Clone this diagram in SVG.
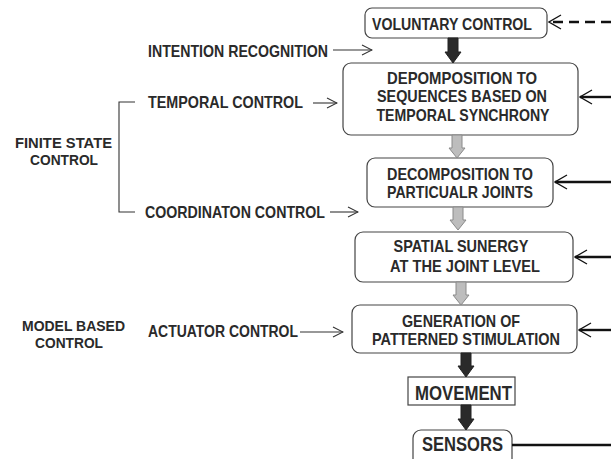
<svg xmlns="http://www.w3.org/2000/svg" width="611" height="459" viewBox="0 0 611 459">
<style>
text{font-family:"Liberation Sans",Arial,sans-serif;font-weight:bold;fill:#2a2a2a;font-size:16.5px}
.c{text-anchor:middle}
.s{font-size:15px}
.box{fill:#fff;stroke:#444;stroke-width:1.2}
.blk{fill:#2a2a2a;stroke:#222;stroke-width:1}
.gry{fill:#bdbdbd;stroke:#8a8a8a;stroke-width:1}
.thin{stroke:#333;stroke-width:1.1;fill:none}
.fb{stroke:#111;stroke-width:2.4;fill:none}
</style>
<defs>
<marker id="op" viewBox="0 0 12 12" refX="11" refY="6" markerWidth="12" markerHeight="12" markerUnits="userSpaceOnUse" orient="auto">
<path d="M1,1 L11,6 L1,11" fill="none" stroke="#333" stroke-width="1.1"/>
</marker>
<marker id="fbm" viewBox="0 0 14 16" refX="13" refY="8" markerWidth="14" markerHeight="16" markerUnits="userSpaceOnUse" orient="auto">
<path d="M1,1 L13,8 L1,15" fill="none" stroke="#111" stroke-width="1.3"/>
</marker>
</defs>
<rect width="611" height="459" fill="#fff"/>
<g id="n-voluntary"><rect class="box" x="365" y="8" width="182" height="30" rx="7"/><text class="c" x="452" y="30" textLength="160" lengthAdjust="spacingAndGlyphs">VOLUNTARY CONTROL</text></g>
<g id="n-decomp-seq"><rect class="box" x="343" y="63" width="235" height="72" rx="8"/>
<text class="c" x="462" y="84" textLength="150" lengthAdjust="spacingAndGlyphs">DEPOMPOSITION TO</text>
<text class="c" x="462" y="102" textLength="170" lengthAdjust="spacingAndGlyphs">SEQUENCES BASED ON</text>
<text class="c" x="463" y="121" textLength="173" lengthAdjust="spacingAndGlyphs">TEMPORAL SYNCHRONY</text></g>
<g id="n-decomp-joints"><rect class="box" x="367" y="158" width="186" height="49" rx="8"/>
<text class="c" x="460" y="180" textLength="146" lengthAdjust="spacingAndGlyphs">DECOMPOSITION TO</text>
<text class="c" x="460" y="198" textLength="146" lengthAdjust="spacingAndGlyphs">PARTICUALR JOINTS</text></g>
<g id="n-spatial"><rect class="box" x="355" y="232" width="218" height="50" rx="8"/>
<text class="c" x="461" y="252" textLength="135" lengthAdjust="spacingAndGlyphs">SPATIAL SUNERGY</text>
<text class="c" x="465" y="272" textLength="150" lengthAdjust="spacingAndGlyphs">AT THE JOINT LEVEL</text></g>
<g id="n-generation"><rect class="box" x="352" y="305" width="225" height="48" rx="8"/>
<text class="c" x="461" y="327" textLength="118" lengthAdjust="spacingAndGlyphs">GENERATION OF</text>
<text class="c" x="466" y="345" textLength="188" lengthAdjust="spacingAndGlyphs">PATTERNED STIMULATION</text></g>
<g id="n-movement"><rect class="box" x="408" y="377" width="107" height="28" rx="0"/>
<text class="c" x="463.5" y="400" style="font-size:20px" textLength="97" lengthAdjust="spacingAndGlyphs">MOVEMENT</text></g>
<g id="n-sensors"><rect class="box" x="413" y="430" width="99" height="40" rx="8"/>
<text class="c" x="462.5" y="451" style="font-size:20px" textLength="81" lengthAdjust="spacingAndGlyphs">SENSORS</text></g>
<g id="labels">
<text x="148" y="57" textLength="180" lengthAdjust="spacingAndGlyphs">INTENTION RECOGNITION</text>
<text x="148" y="108" textLength="155" lengthAdjust="spacingAndGlyphs">TEMPORAL CONTROL</text>
<text x="145" y="218" textLength="180" lengthAdjust="spacingAndGlyphs">COORDINATON CONTROL</text>
<text x="148" y="337" textLength="150" lengthAdjust="spacingAndGlyphs">ACTUATOR CONTROL</text>
<text class="c s" x="63.5" y="148" textLength="97" lengthAdjust="spacingAndGlyphs">FINITE STATE</text>
<text class="c s" x="64" y="165" textLength="68" lengthAdjust="spacingAndGlyphs">CONTROL</text>
<text class="c s" x="73.5" y="331" textLength="103" lengthAdjust="spacingAndGlyphs">MODEL BASED</text>
<text class="c s" x="69" y="348" textLength="68" lengthAdjust="spacingAndGlyphs">CONTROL</text>
</g>
<g id="connectors">
<polyline class="thin" points="135,102 119,102 119,212 135,212"/>
<line class="thin" x1="333" y1="50" x2="372" y2="50" marker-end="url(#op)"/>
<line class="thin" x1="313" y1="103" x2="337" y2="103" marker-end="url(#op)"/>
<line class="thin" x1="330" y1="212" x2="358" y2="212" marker-end="url(#op)"/>
<line class="thin" x1="300" y1="332" x2="343" y2="332" marker-end="url(#op)"/>
<line class="fb" x1="611" y1="22" x2="549" y2="22" stroke-dasharray="10,6" marker-end="url(#fbm)"/>
<line class="fb" x1="611" y1="97" x2="580" y2="97" marker-end="url(#fbm)"/>
<line class="fb" x1="611" y1="182" x2="555" y2="182" marker-end="url(#fbm)"/>
<line class="fb" x1="611" y1="257" x2="575" y2="257" marker-end="url(#fbm)"/>
<line class="fb" x1="611" y1="330" x2="579" y2="330" marker-end="url(#fbm)"/>
<line class="fb" x1="512" y1="445" x2="611" y2="445"/>
<polygon class="blk" points="448,38 458,38 458,52 461,52 453,63 445,52 448,52"/>
<polygon class="gry" points="452,135 462,135 462,148 465,148 457,158 449,148 452,148"/>
<polygon class="gry" points="453,207 463,207 463,220 466,220 458,230 450,220 453,220"/>
<polygon class="gry" points="456,282 466,282 466,295 469,295 461,305 453,295 456,295"/>
<polygon class="blk" points="461,353 471,353 471,366 474,366 466,377 458,366 461,366"/>
<polygon class="blk" points="461,405 471,405 471,419 474,419 466,430 458,419 461,419"/>
</g>
</svg>
